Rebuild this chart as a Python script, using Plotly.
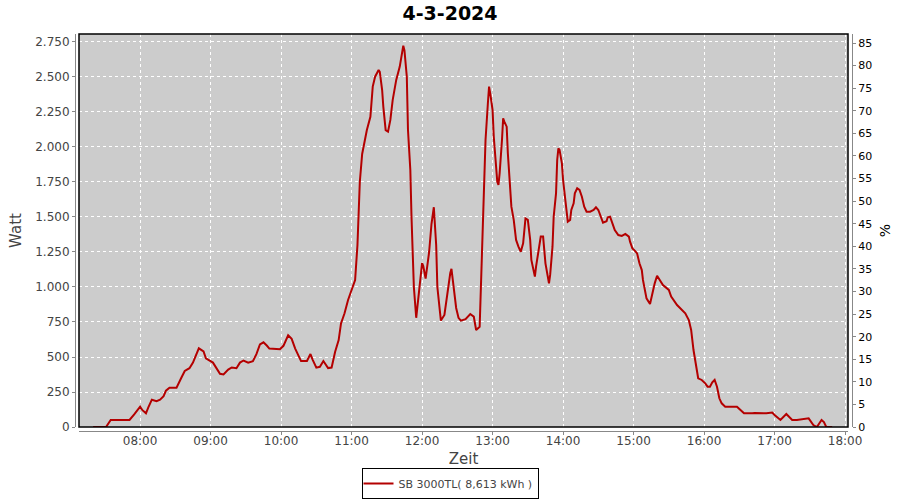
import plotly.graph_objects as go

DAY = "2024-03-04"

times = [
    "07:20", "07:31", "07:35", "07:47", "07:49", "07:51", "07:55", "08:00", "08:02", "08:05",
    "08:07", "08:10", "08:14", "08:17", "08:20", "08:22", "08:25", "08:31", "08:35", "08:38",
    "08:42", "08:45", "08:50", "08:54", "08:56", "09:02", "09:08", "09:11", "09:15", "09:18",
    "09:22", "09:25", "09:28", "09:32", "09:36", "09:39", "09:42", "09:45", "09:48", "09:50",
    "09:59", "10:02", "10:06", "10:09", "10:12", "10:17", "10:22", "10:25", "10:27", "10:30",
    "10:33", "10:36", "10:40", "10:43", "10:46", "10:49", "10:51", "10:54", "10:57", "10:59",
    "11:03", "11:05", "11:07", "11:09", "11:11", "11:13", "11:16", "11:17", "11:18", "11:20",
    "11:23", "11:24", "11:26", "11:27", "11:29", "11:31", "11:33", "11:35", "11:38", "11:41",
    "11:43", "11:44", "11:45", "11:47", "11:48", "11:50", "11:51", "11:53", "11:55", "11:56",
    "11:58", "12:00", "12:01", "12:03", "12:06", "12:08", "12:10", "12:12", "12:13", "12:16",
    "12:19", "12:22", "12:24", "12:25", "12:27", "12:29", "12:31", "12:33", "12:37", "12:41",
    "12:44", "12:46", "12:49", "12:50", "12:51", "12:52", "12:53", "12:54", "12:56", "12:57",
    "12:58", "13:00", "13:01", "13:03", "13:04", "13:05", "13:06", "13:08", "13:09", "13:10",
    "13:12", "13:13", "13:15", "13:16", "13:18", "13:19", "13:20", "13:22", "13:24", "13:26",
    "13:27", "13:28", "13:30", "13:32", "13:33", "13:35", "13:36", "13:37", "13:39", "13:41",
    "13:43", "13:44", "13:45", "13:47", "13:48", "13:49", "13:51", "13:52", "13:54", "13:55",
    "13:56", "13:57", "13:59", "14:00", "14:02", "14:03", "14:04", "14:06", "14:07", "14:09",
    "14:10", "14:12", "14:14", "14:16", "14:18", "14:20", "14:23", "14:26", "14:28", "14:30",
    "14:32", "14:34", "14:37", "14:38", "14:40", "14:42", "14:44", "14:47", "14:50", "14:53",
    "14:56", "14:57", "14:59", "15:01", "15:03", "15:05", "15:07", "15:08", "15:10", "15:11",
    "15:14", "15:16", "15:18", "15:20", "15:24", "15:25", "15:30", "15:32", "15:37", "15:40",
    "15:44", "15:47", "15:49", "15:51", "15:53", "15:55", "15:58", "16:01", "16:03", "16:05",
    "16:07", "16:09", "16:11", "16:13", "16:15", "16:18", "16:28", "16:31", "16:34", "16:41",
    "16:43", "16:53", "16:58", "17:00", "17:05", "17:10", "17:15", "17:19", "17:29", "17:33",
    "17:36", "17:40", "17:42", "17:44", "17:49",
]

watt = [
    0, 0, 50, 50, 45, 50, 90, 145, 120, 98,
    140, 195, 185, 195, 220, 260, 280, 280, 350, 400,
    420, 460, 562, 540, 490, 460, 380, 375, 410, 425,
    420, 460, 475, 460, 470, 520, 590, 605, 580, 560,
    555, 580, 655, 630, 560, 471, 471, 521, 478, 424,
    430, 471, 421, 425, 538, 621, 740, 812, 907, 950,
    1050, 1300, 1750, 1950, 2050, 2121, 2216, 2314, 2431, 2502,
    2550, 2536, 2407, 2288, 2120, 2110, 2193, 2336, 2479, 2574,
    2693, 2724, 2690, 2502, 2121, 1836, 1500, 1000, 780, 850,
    1000, 1170, 1150, 1060, 1250, 1450, 1570, 1300, 1000, 760,
    800, 1000, 1100, 1130, 1000, 850, 780, 760, 770, 807,
    788, 693, 716, 955, 1193, 1467, 1740, 2050, 2312, 2431,
    2383, 2264, 2074, 1836, 1752, 1729, 1812, 2050, 2205, 2181,
    2145, 1955, 1669, 1574, 1479, 1407, 1336, 1288, 1252, 1312,
    1431, 1490, 1479, 1336, 1193, 1098, 1074, 1145, 1264, 1360,
    1360, 1264, 1169, 1074, 1026, 1086, 1288, 1502, 1669, 1907,
    1990, 1979, 1883, 1764, 1621, 1526, 1467, 1479, 1550, 1598,
    1669, 1705, 1693, 1645, 1574, 1538, 1538, 1550, 1569, 1550,
    1502, 1460, 1470, 1498, 1502, 1455, 1407, 1371, 1365, 1379,
    1360, 1324, 1276, 1260, 1240, 1169, 1121, 1050, 955, 919,
    879, 955, 1026, 1080, 1030, 1014, 979, 931, 871, 848,
    812, 764, 693, 550, 431, 348, 336, 312, 288, 288,
    319, 336, 288, 205, 169, 145, 145, 121, 98, 98,
    100, 98, 103, 86, 50, 93, 50, 50, 62, 14,
    0, 50, 35, 0, 0,
]

series_name = "SB 3000TL( 8,613 kWh )"
chart_title = "4-3-2024"
x_title = "Zeit"
y_title = "Watt"
y2_title = "%"

x_range = [DAY + " 07:08:00", DAY + " 18:02:30"]
y_range = [0, 2807]
y2_range = [0, 87]

x = [DAY + " " + t for t in times]

fig = go.Figure()
fig.add_trace(go.Scatter(
    x=x, y=watt, mode="lines", name=series_name,
    line=dict(color="#B40000", width=2),
    showlegend=True,
))
fig.add_trace(go.Scatter(
    x=[None], y=[None], yaxis="y2", mode="lines", showlegend=False,
    hoverinfo="skip",
))

axis_font = dict(family="DejaVu Sans", size=12, color="#444444")

fig.update_layout(
    width=900, height=500,
    margin=dict(l=75, r=48, t=34, b=69, autoexpand=False),
    paper_bgcolor="white",
    plot_bgcolor="#CCCCCC",
    separators=",.",
    font=dict(family="DejaVu Sans", size=12, color="#444444"),
    title=dict(text="<b>" + chart_title + "</b>", x=0.5, xanchor="center",
               y=1 - 13 / 500, yanchor="middle",
               font=dict(family="DejaVu Sans", size=19, color="black")),
    xaxis=dict(
        type="date", range=x_range, domain=[4 / 777, 773 / 777],
        anchor="free", position=0, automargin=False,
        tickformat="%H:%M", dtick=3600000, tick0=DAY + " 08:00",
        showgrid=True, gridcolor="white", griddash="dot", gridwidth=1,
        showline=True, linecolor="#888888", linewidth=1,
        ticks="outside", ticklen=3, tickcolor="#888888", ticklabelstandoff=-4,
        tickfont=axis_font, zeroline=False,
        title=dict(text=x_title, font=dict(family="DejaVu Sans", size=15, color="#444444"), standoff=7),
    ),
    yaxis=dict(
        range=y_range, domain=[4 / 397, 1],
        anchor="free", position=0, automargin=False,
        dtick=250, tick0=0, tickformat=",d",
        showgrid=True, gridcolor="white", griddash="dot", gridwidth=1,
        showline=True, linecolor="#888888", linewidth=1,
        ticks="outside", ticklen=3, tickcolor="#888888",
        tickfont=axis_font, zeroline=False,
        title=dict(text=y_title, font=dict(family="DejaVu Sans", size=15, color="#444444"), standoff=8),
    ),
    yaxis2=dict(
        range=y2_range, domain=[4 / 397, 1], overlaying="y", side="right",
        anchor="free", position=1, automargin=False,
        dtick=5, tick0=0,
        showgrid=False, zeroline=False,
        showline=True, linecolor="#888888", linewidth=1,
        ticks="outside", ticklen=3, tickcolor="#888888",
        tickfont=dict(family="DejaVu Sans", size=11, color="black"),
        title=dict(text=y2_title, font=dict(family="DejaVu Sans", size=14, color="black"), standoff=8),
    ),
    legend=dict(
        orientation="h", x=0.5, xanchor="center", xref="container",
        y=(500 - 468) / 500, yanchor="top", yref="container",
        bordercolor="black", borderwidth=1, bgcolor="white",
        font=dict(family="DejaVu Sans", size=11, color="#444444"),
        itemwidth=30, tracegroupgap=0, indentation=-4,
    ),
    shapes=[dict(type="rect", xref="x domain", yref="y domain", x0=0, x1=1, y0=0, y1=1,
                 line=dict(color="black", width=1.5), fillcolor="rgba(0,0,0,0)", layer="above")],
)

fig.write_html("out.html", config={"displayModeBar": False},
               post_script="document.body.style.margin='0px';")
